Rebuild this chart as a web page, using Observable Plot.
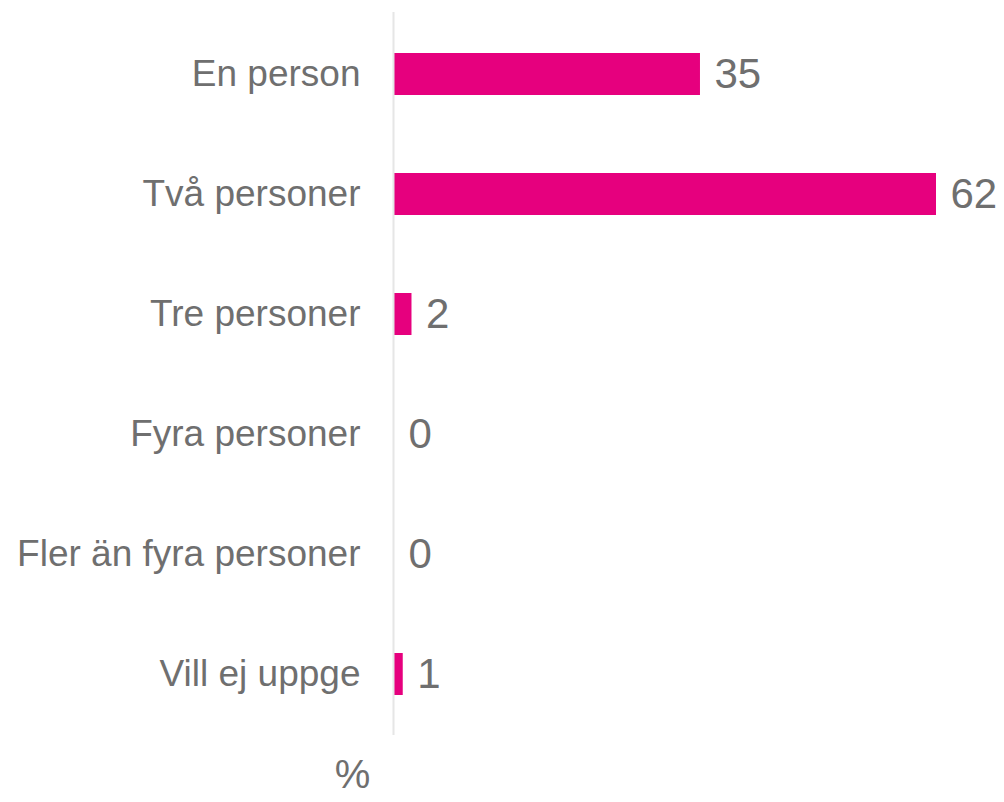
<!DOCTYPE html>
<html>
<head>
<meta charset="utf-8">
<script src="https://cdn.jsdelivr.net/npm/d3@7"></script>
<script src="https://cdn.jsdelivr.net/npm/@observablehq/plot@0.6"></script>
<style>
  html, body { margin: 0; padding: 0; background: #fff; }
  #chart svg { display: block; font-family: Arial, "Liberation Sans", sans-serif; }
</style>
</head>
<body>
<div id="chart"></div>
<script>
const categories = ["En person", "Två personer", "Tre personer", "Fyra personer", "Fler än fyra personer", "Vill ej uppge"];
const values = [35, 62, 2, 0, 0, 1];
const unitLabel = "%";

const data = categories.map((c, i) => ({category: c, value: values[i]}));

const barColor = "#E6007E";
const textColor = "#6f6f6f";

const chart = Plot.plot({
  width: 1004,
  height: 802,
  marginTop: 12,
  marginBottom: 67,
  marginLeft: 394,
  marginRight: 68,
  style: {fontFamily: "Arial, 'Liberation Sans', sans-serif", background: "#fff"},
  x: {domain: [0, 62], axis: null},
  y: {domain: categories, paddingInner: 0.65, paddingOuter: 0.325, label: null},
  marks: [
    Plot.axisY({tickSize: 0, tickPadding: 34, fontSize: 37, fill: textColor, label: null}),
    Plot.barX(data, {x: "value", y: "category", fill: barColor}),
    Plot.ruleX([0], {stroke: "#e6e6e6", strokeWidth: 2, dx: -1}),
    Plot.text(data, {x: "value", y: "category", text: d => String(d.value), textAnchor: "start", dx: 14, fontSize: 42, fill: textColor}),
    Plot.text([unitLabel], {frameAnchor: "bottom-left", text: d => d, dx: -42, dy: 52, fontSize: 40, fill: textColor, textAnchor: "middle"})
  ]
});
document.getElementById("chart").appendChild(chart);
</script>
</body>
</html>
